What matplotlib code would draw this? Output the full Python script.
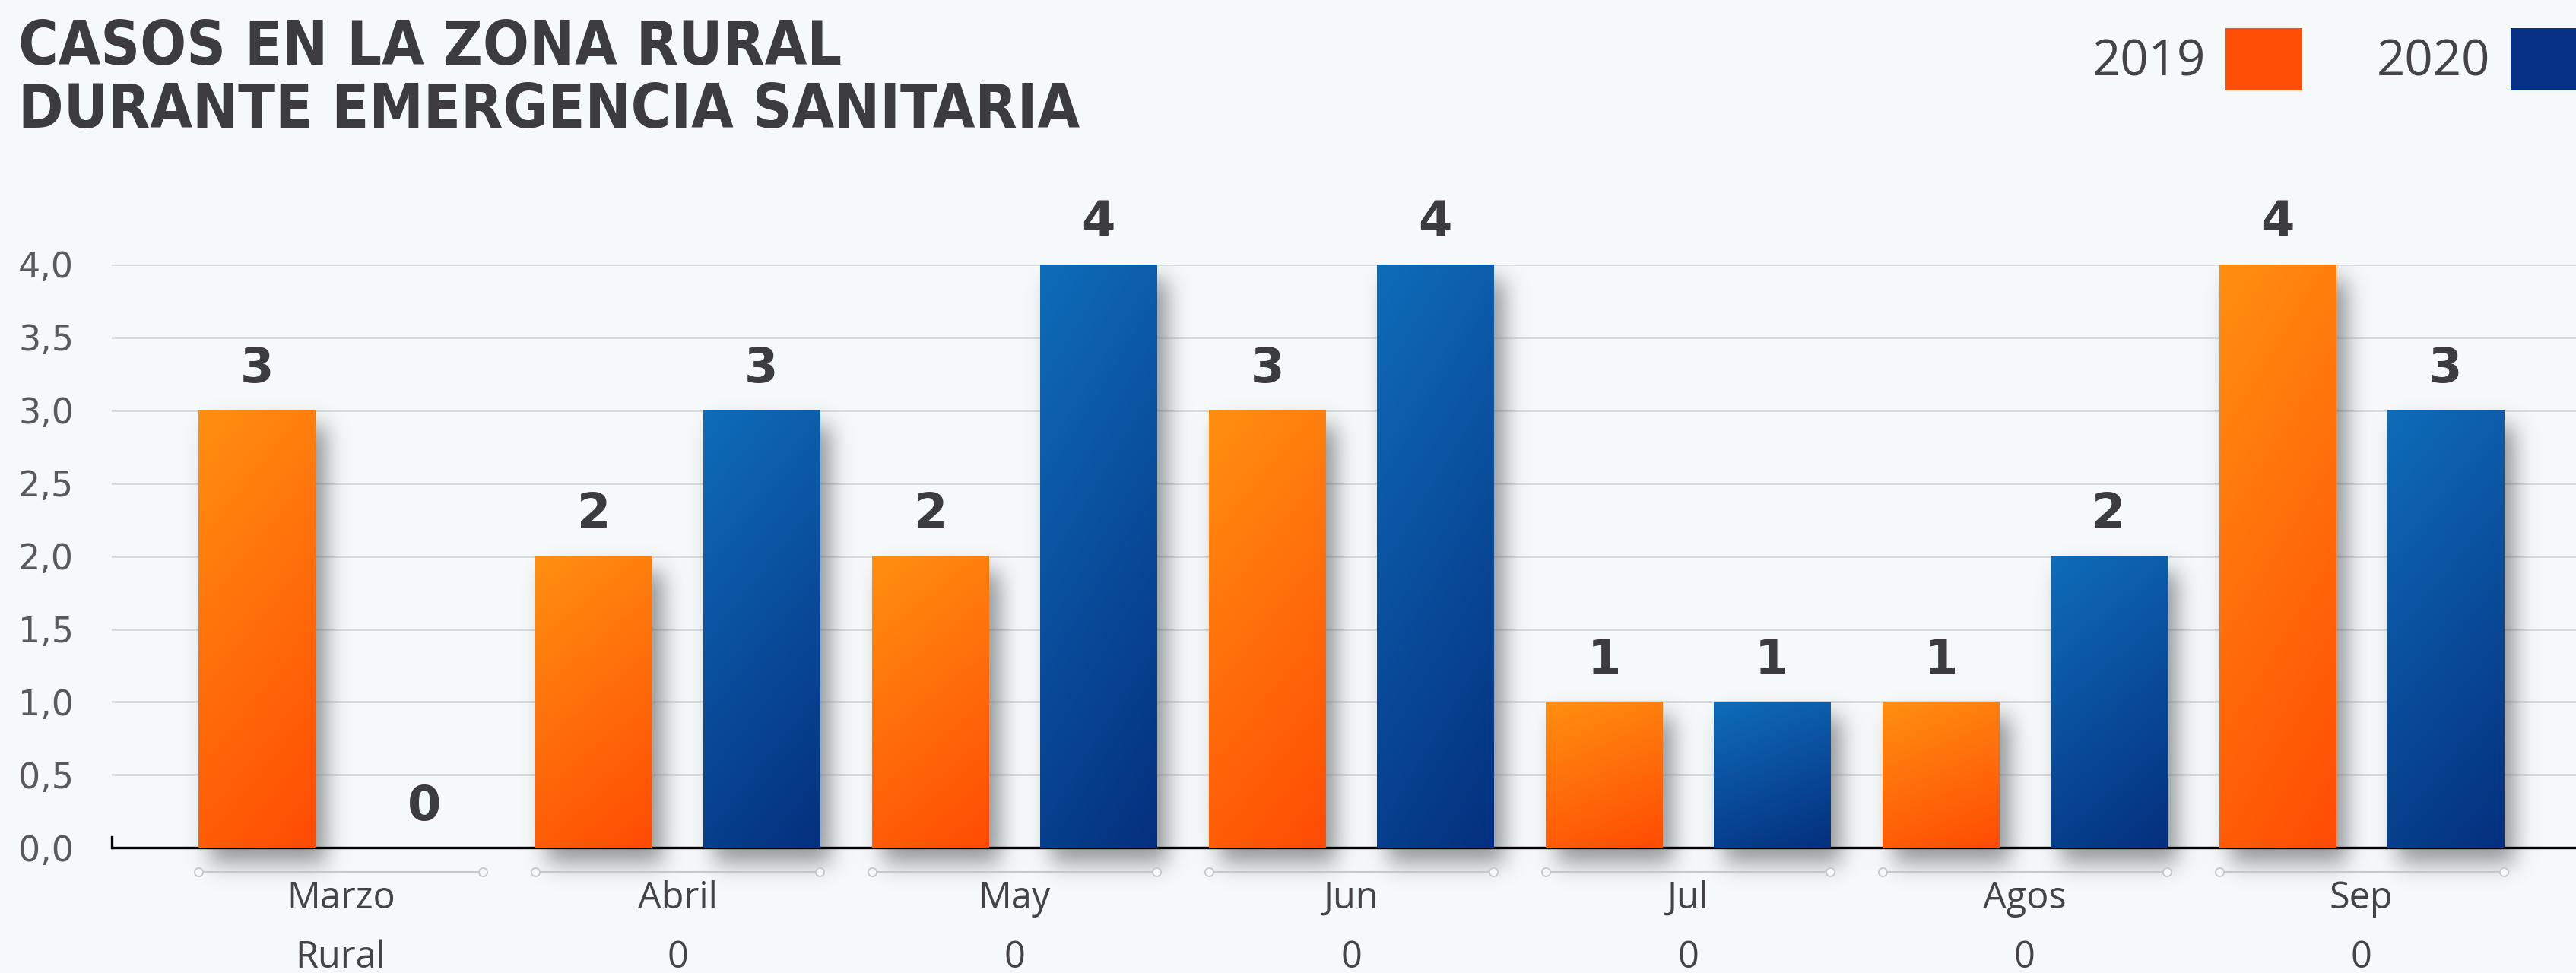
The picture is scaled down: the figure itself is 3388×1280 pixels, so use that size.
import numpy as np
import matplotlib
matplotlib.use("Agg")
import matplotlib.pyplot as plt
from matplotlib.colors import LinearSegmentedColormap
from matplotlib.patches import Patch

meses = ['Marzo', 'Abril', 'May', 'Jun', 'Jul', 'Agos', 'Sep']
casos_2019 = [3, 2, 2, 3, 1, 1, 4]
casos_2020 = [0, 3, 4, 4, 1, 2, 3]
fila_rural = ['Rural', '0', '0', '0', '0', '0', '0']
y_ticks = [0, 0.5, 1.0, 1.5, 2.0, 2.5, 3.0, 3.5, 4.0]

bg = '#f5f9fa'
txt = '#3c3c3f'
naranja = '#ff4e05'
azul = '#062f86'
cmap_nar = LinearSegmentedColormap.from_list('nar', ['#ff8f11', '#ff4c04'])
cmap_azul = LinearSegmentedColormap.from_list('azul', ['#0f6cb9', '#04307f'])

W, H = 3388, 1280
fig = plt.figure(figsize=(W / 100, H / 100), dpi=100, facecolor=bg)
ax = fig.add_axes([147 / W, (H - 1192) / H, 1 - 147 / W, (1192 - 348) / H])
ax.set_facecolor(bg)
x0, x1, y0, y1 = -0.68, 6.637, -0.4, 4.0

x = np.arange(len(meses))
off, bw = 0.249, 0.346
bars1 = ax.bar(x - off, casos_2019, bw, color=naranja, zorder=3)
bars2 = ax.bar(x + off, casos_2020, bw, color=azul, zorder=3)

# gradient fill on each bar (light top-left -> dark bottom-right)
u = np.linspace(0, 1, 60)
uu, vv = np.meshgrid(u, u)
grad = 0.75 * vv + 0.25 * uu
for bars, cm in [(bars1, cmap_nar), (bars2, cmap_azul)]:
    for b in bars:
        if b.get_height() <= 0:
            continue
        ax.imshow(grad, extent=[b.get_x(), b.get_x() + b.get_width(), 0, b.get_height()],
                  cmap=cm, vmin=0, vmax=1, aspect='auto', zorder=3.5, interpolation='bilinear')

# blurred drop shadow
pw, ph = 3241, 844
xs = np.linspace(x0, x1, pw)
ys = np.linspace(y0, y1, ph)
mask = np.zeros((ph, pw))
dxu = 14 / 443.0
dyu = 20 / 191.75
for b in list(bars1) + list(bars2):
    if b.get_height() <= 0:
        continue
    cx = (xs >= b.get_x() + dxu) & (xs <= b.get_x() + b.get_width() + dxu)
    cy = (ys >= -dyu) & (ys <= b.get_height() - dyu)
    mask[np.ix_(cy, cx)] = 1.0


def blur1d(a, sigma, axis):
    n = a.shape[axis]
    pad = int(4 * sigma)
    widths = [(0, 0), (0, 0)]
    widths[axis] = (pad, pad)
    a = np.pad(a, widths)
    m = a.shape[axis]
    k = np.exp(-0.5 * ((np.arange(m) - m // 2) / sigma) ** 2)
    k = np.fft.ifftshift(k / k.sum())
    shape = [1, 1]
    shape[axis] = -1
    fk = np.fft.rfft(k).reshape(shape)
    out = np.fft.irfft(np.fft.rfft(a, axis=axis) * fk, n=m, axis=axis)
    return np.take(out, np.arange(pad, pad + n), axis=axis)


sh = blur1d(blur1d(mask, 15, 0), 14, 1)
rgba = np.zeros((ph, pw, 4))
rgba[..., 0] = 0.33
rgba[..., 1] = 0.35
rgba[..., 2] = 0.37
rgba[..., 3] = np.clip(sh, 0, 1) * 0.62
ax.imshow(rgba, extent=[x0, x1, y0, y1], origin='lower', aspect='auto', zorder=2,
          interpolation='bilinear')

# axis base line
ax.axhline(0, color='black', lw=2.4, zorder=2.5)
ax.plot([x0, x0], [0, 0.075], color='black', lw=2.4, zorder=2.5, clip_on=False)

# value labels
for bars in (bars1, bars2):
    for b in bars:
        ax.annotate(f"{int(b.get_height())}", (b.get_x() + b.get_width() / 2, b.get_height()),
                    xytext=(0, 17), textcoords='offset points', ha='center', va='bottom',
                    fontsize=46, fontweight='bold', color=txt, family='DejaVu Sans', zorder=5)

# brackets and category labels
for i in range(len(meses)):
    xa = i - off - bw / 2
    xb = i + off + bw / 2
    ax.plot([xa, xb], [-0.167, -0.167], color='#c6c9cb', lw=1.6, marker='o', ms=8,
            mfc=bg, mec='#c6c9cb', mew=1.4, clip_on=False, zorder=4)
    ax.text(i, -0.349, meses[i], ha='center', va='center', fontsize=35,
            color='#444446', family='Open Sans')
    ax.text(i, -0.756, fila_rural[i], ha='center', va='center', fontsize=35,
            color='#444446', family='Open Sans')

ax.set_yticks(y_ticks)
ax.set_yticklabels([f"{v:.1f}".replace('.', ',') for v in y_ticks], fontsize=33,
                   color='#5a5a5c', family='DejaVu Sans')
ax.tick_params(axis='y', length=0, pad=36)
ax.set_xticks([])
ax.grid(axis='y', color='#d3d6d8', lw=1.8, zorder=0)
ax.set_axisbelow(True)
for s in ax.spines.values():
    s.set_visible(False)
ax.set_xlim(x0, x1)
ax.set_ylim(y0, y1)

# title
fig.text(24 / W, 1 - 85 / H, 'CASOS EN LA ZONA RURAL', fontsize=57.5, fontweight='bold',
         fontstretch='condensed', color=txt, family='DejaVu Sans', va='baseline')
fig.text(24 / W, 1 - 168 / H, 'DURANTE EMERGENCIA SANITARIA', fontsize=57.5, fontweight='bold',
         fontstretch='condensed', color=txt, family='DejaVu Sans', va='baseline')

# legend
handles = [Patch(facecolor=naranja, edgecolor='none'), Patch(facecolor=azul, edgecolor='none')]
fig.legend(handles, ['2019', '2020'], loc='upper right', bbox_to_anchor=(3403 / W, 1 - 37 / H),
           ncol=2, frameon=False, markerfirst=False, prop={'family': 'Open Sans', 'size': 47},
           handlelength=1.55, handleheight=1.55, handletextpad=0.4, columnspacing=1.5,
           borderpad=0, borderaxespad=0, labelcolor='#444446')

fig.savefig('out.png', dpi=100, facecolor=bg)
